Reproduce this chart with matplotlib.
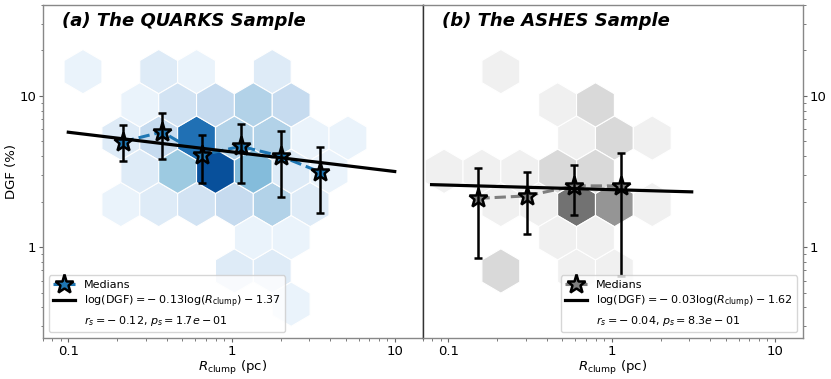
import numpy as np
import matplotlib
matplotlib.use("Agg")
import matplotlib.pyplot as plt
from matplotlib.lines import Line2D
from matplotlib.ticker import NullFormatter

# ---------------- data ----------------
# QUARKS hexbin cells: centre R (pc), centre DGF (%), number of clumps
q_hex_R = [0.1231, 0.3579, 0.6106, 1.776,
           0.2741, 0.4675, 0.7975, 1.3605, 2.3207,
           0.2099, 0.3579, 0.6106, 1.0416, 1.776, 3.030, 5.169,
           0.2741, 0.4675, 0.7975, 1.3605, 2.3207, 3.958,
           0.2099, 0.3579, 0.6106, 1.0416, 1.776, 3.030,
           1.3605, 2.3207,
           1.0416, 1.776,
           2.3207]
q_hex_DGF = [14.49, 14.49, 14.49, 14.49,
             8.731, 8.731, 8.731, 8.731, 8.731,
             5.262, 5.262, 5.262, 5.262, 5.262, 5.262, 5.262,
             3.172, 3.172, 3.172, 3.172, 3.172, 3.172,
             1.912, 1.912, 1.912, 1.912, 1.912, 1.912,
             1.152, 1.152,
             0.6945, 0.6945,
             0.4185]
q_hex_N = [1, 2, 1, 2,
           1, 3, 4, 5, 4,
           2, 4, 12, 5, 5, 1, 1,
           2, 6, 14, 7, 2, 1,
           1, 2, 3, 4, 5, 2,
           1, 1,
           2, 2,
           1]

# ASHES hexbin cells
a_hex_R = [0.2099,
           0.4675, 0.7975,
           0.6106, 1.0416, 1.776,
           0.0942, 0.1607, 0.2741, 0.4675, 0.7975,
           0.2099, 0.3579, 0.6106, 1.0416, 1.776,
           0.4675, 0.7975,
           0.2099, 0.6106, 1.0416]
a_hex_DGF = [14.49,
             8.731, 8.731,
             5.262, 5.262, 5.262,
             3.172, 3.172, 3.172, 3.172, 3.172,
             1.912, 1.912, 1.912, 1.912, 1.912,
             1.152, 1.152,
             0.6945, 0.6945, 0.6945]
a_hex_N = [1,
           1, 2,
           1, 2, 1,
           1, 1, 1, 2, 2,
           1, 1, 5, 4, 1,
           1, 1,
           2, 1, 1]

# medians with error bars
q_med_R = [0.216, 0.376, 0.657, 1.14, 2.01, 3.50]
q_med_DGF = [4.98, 5.78, 4.07, 4.64, 3.99, 3.13]
q_med_hi = [6.43, 7.75, 5.52, 6.53, 5.84, 4.59]
q_med_lo = [3.71, 3.80, 2.67, 2.67, 2.15, 1.68]

a_med_R = [0.153, 0.302, 0.589, 1.15]
a_med_DGF = [2.10, 2.18, 2.54, 2.54]
a_med_hi = [3.32, 3.15, 3.49, 4.17]
a_med_lo = [0.842, 1.22, 1.63, 0.642]

# fits: log(DGF) = slope*log(R) + intercept  (DGF as a fraction)
q_slope, q_inter = -0.13, -1.37
a_slope, a_inter = -0.03, -1.62
q_fit_range = [0.1, 10.0]
a_fit_range = [0.079, 3.1]
q_fit_label = r"log(DGF)$=-\:0.13$log($R_{\rm clump}$)$\:-\:1.37$"
a_fit_label = r"log(DGF)$=-\:0.03$log($R_{\rm clump}$)$\:-\:1.62$"
q_stat_label = r"$r_s=-\:0.12$, $p_s=1.7e-01$"
a_stat_label = r"$r_s=-\:0.04$, $p_s=8.3e-01$"

titles = ["(a) The QUARKS Sample", "(b) The ASHES Sample"]
x_ticks = [0.1, 1, 10]
x_ticklabels = ["0.1", "1", "10"]
y_ticks = [1, 10]
y_ticklabels = ["1", "10"]

# ---------------- layout ----------------
fig = plt.figure(figsize=(8.31, 3.79), dpi=100)
L, B, W, H = 43 / 831, 1 - 338 / 379, 380 / 831, 333 / 379
ax1 = fig.add_axes([L, B, W, H])
ax2 = fig.add_axes([L + W, B, W, H])

# hex lattice (log10 units)
sx, sy = 0.2319, 0.4398
hx0 = -0.678 - 3 * sx
hy0 = 1.161 - 4 * sy
extent = (hx0, hx0 + 10 * sx, hy0, hy0 + 4 * sy)

panels = [
    (ax1, q_hex_R, q_hex_DGF, q_hex_N, "Blues", 16, q_med_R, q_med_DGF, q_med_lo, q_med_hi,
     "#1f77b4", q_slope, q_inter, q_fit_range, q_fit_label, q_stat_label, "lower left"),
    (ax2, a_hex_R, a_hex_DGF, a_hex_N, "Greys", 8, a_med_R, a_med_DGF, a_med_lo, a_med_hi,
     "#7f7f7f", a_slope, a_inter, a_fit_range, a_fit_label, a_stat_label, "lower right"),
]

for i, (ax, hR, hD, hN, cmap, vmax, mR, mD, mlo, mhi, col, sl, ic, fr, lab2, lab3, loc) in enumerate(panels):
    ax.hexbin(hR, hD, C=hN, reduce_C_function=np.sum, gridsize=(10, 4), extent=extent,
              xscale="log", yscale="log", cmap=cmap, vmin=0, vmax=vmax,
              edgecolors="white", linewidths=0.8, zorder=1)
    mR = np.array(mR); mD = np.array(mD)
    yerr = [mD - np.array(mlo), np.array(mhi) - mD]
    ax.plot(mR, mD, ls="--", lw=2.2, color=col, zorder=3)
    ax.plot(mR, mD, ls="none", marker="*", ms=14, mfc=col, mec="black", mew=1.8, zorder=4)
    ax.errorbar(mR, mD, yerr=yerr, fmt="none", ecolor="black", elinewidth=1.8,
                capsize=3, capthick=1.8, zorder=5)
    xf = np.array(fr)
    yf = 100 * 10 ** (sl * np.log10(xf) + ic)
    ax.plot(xf, yf, color="black", lw=2.3, zorder=6)

    h1 = Line2D([], [], ls="--", lw=2.2, color=col, marker="*", ms=14, mfc=col,
                mec="black", mew=1.8)
    h2 = Line2D([], [], color="black", lw=2.3)
    h3 = Line2D([], [], ls="none")
    ax.legend([h1, h2, h3], ["Medians", lab2, lab3], loc=loc, fontsize=8,
              handlelength=2.0, borderaxespad=0.5, labelspacing=0.35)

    ax.set_xscale("log"); ax.set_yscale("log")
    ax.set_xlim(0.07, 14.9)
    ax.set_ylim(0.25, 40)
    ax.set_xticks(x_ticks)
    ax.set_xticklabels(x_ticklabels)
    ax.set_yticks(y_ticks)
    ax.set_yticklabels(y_ticklabels)
    ax.xaxis.set_minor_formatter(NullFormatter())
    ax.yaxis.set_minor_formatter(NullFormatter())
    ax.tick_params(which="major", labelsize=9.5, length=3, pad=2, color="#666666")
    ax.tick_params(which="minor", length=1.8, color="#666666")
    for s in ax.spines.values():
        s.set_color("#888888")
        s.set_linewidth(1.0)
    ax.set_xlabel(r"$R_{\rm clump}$ (pc)", fontsize=9.5, labelpad=1)
    ax.text(0.05, 0.952, titles[i], transform=ax.transAxes, fontsize=13,
            fontweight="bold", fontstyle="italic", va="center", ha="left", zorder=10)

ax1.spines["right"].set_color("#333333")
ax2.spines["left"].set_color("#333333")
ax1.set_ylabel("DGF (%)", fontsize=9.5, labelpad=1)
ax2.yaxis.tick_right()

fig.savefig("out.png", dpi=100)
